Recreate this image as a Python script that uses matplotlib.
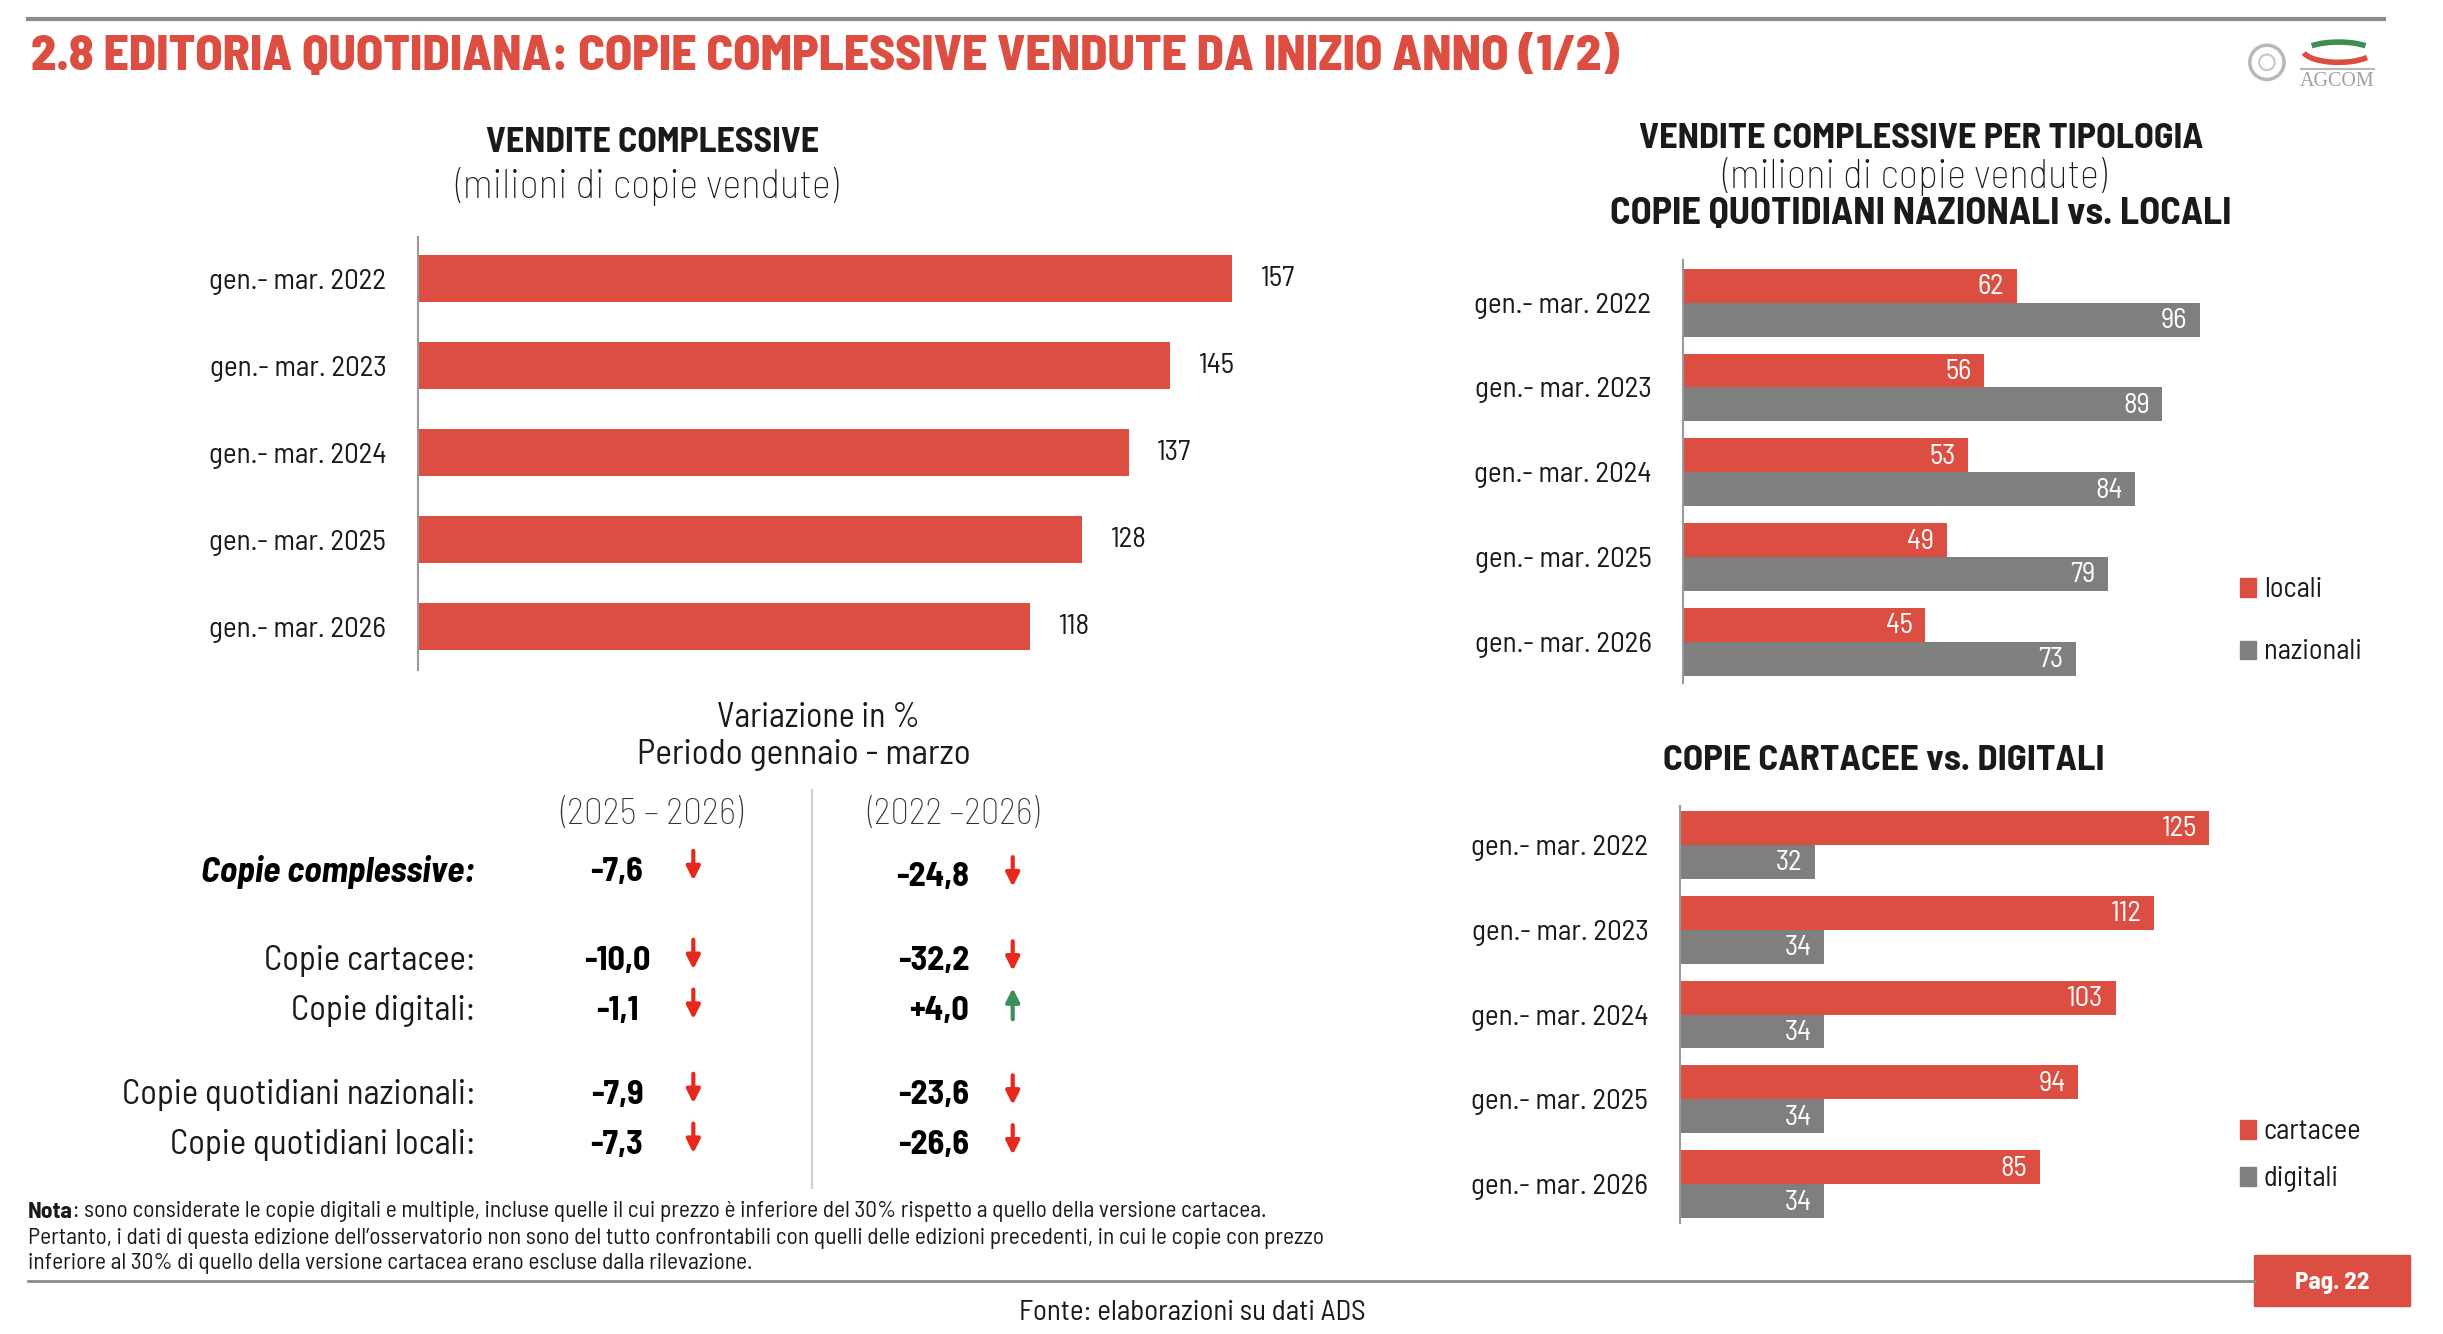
import matplotlib
matplotlib.use("Agg")
import matplotlib.pyplot as plt
from matplotlib.patches import Rectangle, Circle, Arc

# --- dati ---
periodi = ["gen.- mar. 2022", "gen.- mar. 2023", "gen.- mar. 2024", "gen.- mar. 2025", "gen.- mar. 2026"]
totale = [157, 145, 137, 128, 118]
locali = [62, 56, 53, 49, 45]
nazionali = [96, 89, 84, 79, 73]
cartacee = [125, 112, 103, 94, 85]
digitali = [32, 34, 34, 34, 34]

righe = ["Copie complessive:", "Copie cartacee:", "Copie digitali:",
         "Copie quotidiani nazionali:", "Copie quotidiani locali:"]
var_2025_2026 = [-7.6, -10.0, -1.1, -7.9, -7.3]
var_2022_2026 = [-24.8, -32.2, 4.0, -23.6, -26.6]

RED = "#DC4E41"
GRAY = "#7F7F7F"
TXT = "#1A1A1A"
FONT = ["Barlow Semi Condensed", "DejaVu Sans"]
plt.rcParams["font.family"] = FONT

# coordinate di riferimento della pagina
W0, H0 = 1568.0, 856.0
SC = 2443 / W0
DY = 1.5  # piccolo aggiustamento verticale dei testi


def rect(x0, y0, x1, y1):
    return [x0 / W0, 1 - y1 / H0, (x1 - x0) / W0, (y1 - y0) / H0]


fig = plt.figure(figsize=(24.43, 13.34), dpi=100)
fig.patch.set_facecolor("white")
R = fig.canvas.get_renderer()

bg = fig.add_axes([0, 0, 1, 1])
bg.set_xlim(0, W0)
bg.set_ylim(H0, 0)
bg.axis("off")


def size_for(s, target, **kw):
    # dimensione del font per avere la larghezza voluta (in unità pagina)
    t = bg.text(0, 0, s, fontsize=10, **kw)
    w = t.get_window_extent(renderer=R).width / SC
    t.remove()
    return 10 * target / w


def txt(x, y, s, target, ha="center", **kw):
    fs = size_for(s, target, **kw)
    return bg.text(x, y + DY, s, fontsize=fs, ha=ha, va="center", **kw)


# intestazione
bg.plot([18, 1530], [12, 12], color="#8C8C8C", lw=3)
txt(20, 35, "2.8 EDITORIA QUOTIDIANA: COPIE COMPLESSIVE VENDUTE DA INIZIO ANNO (1/2)", 1020,
    ha="left", color=RED, fontweight=800)

# logo (stilizzato)
bg.add_patch(Circle((1455, 40), 11, fill=False, ec="#B8B8B8", lw=2.5))
bg.add_patch(Circle((1455, 40), 5, fill=False, ec="#C8C8C8", lw=1.5))
bg.add_patch(Arc((1501, 32), 46, 16, theta1=15, theta2=175, color=RED, lw=4))
bg.add_patch(Arc((1501, 34), 46, 14, theta1=195, theta2=345, color="#3E8E4F", lw=4))
bg.plot([1477, 1524], [44, 44], color="#B8B8B8", lw=1.5)
txt(1500, 51, "AGCOM", 48, color="#A0A0A0", family=["Liberation Serif", "DejaVu Serif"])

LAB_FS = size_for(periodi[0], 114)
VAL_FS = size_for("157", 22)
IN_FS = LAB_FS * 0.98
LEG_FS = size_for("nazionali", 63)


def style_axis(ax, ylim):
    ax.set_ylim(*ylim)
    for s in ["top", "right", "bottom"]:
        ax.spines[s].set_visible(False)
    ax.spines["left"].set_color("#9A9A9A")
    ax.spines["left"].set_linewidth(1.5)
    ax.tick_params(left=False, bottom=False, labelbottom=False, pad=19,
                   labelsize=LAB_FS, labelcolor=TXT)
    ax.set_facecolor("none")


def legenda(bars_list, x, ys):
    for bars, y in zip(bars_list, ys):
        bg.add_patch(Rectangle((x, y - 6), 10, 12, color=bars.patches[0].get_facecolor()))
        bg.text(x + 15, y + DY, bars.get_label(), fontsize=LEG_FS, ha="left", va="center", color=TXT)


def etichette_interne(ax, bars, vals):
    for b, v in zip(bars, vals):
        ax.annotate(str(v), xy=(v, b.get_y() + b.get_height() / 2), xytext=(-9, -1),
                    textcoords="offset points", ha="right", va="center",
                    color="white", fontsize=IN_FS)


pos = list(range(len(periodi)))

# --- grafico 1: vendite complessive ---
txt(419, 90, "VENDITE COMPLESSIVE", 215, color=TXT, fontweight="bold")
txt(415, 118, "(milioni di copie vendute)", 246, color=TXT, fontweight="light")

ax1 = fig.add_axes(rect(268, 152, 268 + 523 / 157 * 175, 430))
b1 = ax1.barh(pos, totale, height=0.54, color=RED)
ax1.set_xlim(0, 175)
ax1.set_yticks(pos, periodi)
style_axis(ax1, (4.5, -0.48))
ax1.bar_label(b1, labels=[str(v) for v in totale], padding=20, fontsize=VAL_FS, color=TXT)

# --- grafico 2: nazionali vs locali ---
txt(1233, 88, "VENDITE COMPLESSIVE PER TIPOLOGIA", 364, color=TXT, fontweight="bold")
txt(1229, 112, "(milioni di copie vendute)", 247, color=TXT, fontweight="light")
txt(1233, 136, "COPIE QUOTIDIANI NAZIONALI vs. LOCALI", 400, color=TXT, fontweight="bold")

ax2 = fig.add_axes(rect(1080, 167, 1080 + 3.458 * 105, 438))
bl = ax2.barh([p - 0.2 for p in pos], locali, height=0.4, color=RED, label="locali")
bn = ax2.barh([p + 0.2 for p in pos], nazionali, height=0.4, color=GRAY, label="nazionali")
ax2.set_xlim(0, 105)
ax2.set_yticks(pos, periodi)
style_axis(ax2, (4.48, -0.5))
etichette_interne(ax2, bl, locali)
etichette_interne(ax2, bn, nazionali)
legenda([bl, bn], 1438, [377, 417])

# --- grafico 3: cartacee vs digitali ---
txt(1209, 487, "COPIE CARTACEE vs. DIGITALI", 284, color=TXT, fontweight="bold")

ax3 = fig.add_axes(rect(1078, 517, 1078 + 2.72 * 135, 785))
bc = ax3.barh([p - 0.2 for p in pos], cartacee, height=0.4, color=RED, label="cartacee")
bd = ax3.barh([p + 0.2 for p in pos], digitali, height=0.4, color=GRAY, label="digitali")
ax3.set_xlim(0, 135)
ax3.set_yticks(pos, periodi)
style_axis(ax3, (4.46, -0.46))
etichette_interne(ax3, bc, cartacee)
etichette_interne(ax3, bd, digitali)
legenda([bc, bd], 1438, [725, 755])

# --- tabella variazioni ---
txt(525, 459, "Variazione in %", 131, color=TXT)
txt(516, 483, "Periodo gennaio - marzo", 215, color=TXT)
txt(418, 521, "(2025 \u2013 2026)", 117, color="#333333", fontweight="light")
txt(612, 521, "(2022 \u20132026)", 110, color="#333333", fontweight="light")
bg.plot([521, 521], [507, 762], color="#CFCFCF", lw=1.5)

row_y = [558, 615, 647, 701, 733]
ROW_FS = size_for(righe[3], 227)
BIG_FS = size_for(righe[0], 176, fontweight="bold", fontstyle="italic")
NUM_FS = size_for("-24,8", 47, fontweight="bold")


def fmt(v):
    s = f"{v:.1f}".replace(".", ",")
    return "+" + s if v > 0 else s


def freccia(x, y, v):
    col = "#E8271E" if v < 0 else "#3A8F5A"
    if v < 0:
        a, b = (x, y + 9), (x, y - 10)
    else:
        a, b = (x, y - 12), (x, y + 8)
    bg.annotate("", xy=a, xytext=b,
                arrowprops=dict(arrowstyle="-|>", color=col, lw=3, mutation_scale=20,
                                shrinkA=0, shrinkB=0))


for i, (lab, y) in enumerate(zip(righe, row_y)):
    if i == 0:
        bg.text(305, y + DY, lab, fontsize=BIG_FS, fontweight="bold", fontstyle="italic",
                ha="right", va="center", color="black")
    else:
        bg.text(305, y + DY, lab, fontsize=ROW_FS, ha="right", va="center", color=TXT)
    bg.text(396, y + DY, fmt(var_2025_2026[i]), fontsize=NUM_FS, fontweight="bold",
            ha="center", va="center", color="black")
    freccia(445, y - 2, var_2025_2026[i])
    y2 = y + 3 if i == 0 else y
    bg.text(622, y2 + DY, fmt(var_2022_2026[i]), fontsize=NUM_FS, fontweight="bold",
            ha="right", va="center", color="black")
    freccia(650, y2 - 1, var_2022_2026[i])

# --- note ---
nota_righe = [
    ": sono considerate le copie digitali e multiple, incluse quelle il cui prezzo \u00e8 inferiore del 30% rispetto a quello della versione cartacea.",
    "Pertanto, i dati di questa edizione dell\u2019osservatorio non sono del tutto confrontabili con quelli delle edizioni precedenti, in cui le copie con prezzo",
    "inferiore al 30% di quello della versione cartacea erano escluse dalla rilevazione.",
]
NOTE_FS = size_for(nota_righe[1], 835)
t_nota = bg.text(18, 776 + DY, "Nota", fontsize=NOTE_FS, fontweight="bold", ha="left", va="center", color=TXT)
bg.annotate(nota_righe[0], xy=(1, 0), xycoords=t_nota, ha="left", va="bottom",
            fontsize=NOTE_FS, color=TXT)
bg.text(18, 793 + DY, nota_righe[1], fontsize=NOTE_FS, ha="left", va="center", color=TXT)
bg.text(18, 809 + DY, nota_righe[2], fontsize=NOTE_FS, ha="left", va="center", color=TXT)

# --- piè di pagina ---
bg.plot([18, 1447], [822, 822], color="#8C8C8C", lw=2)
bg.add_patch(Rectangle((1447, 805), 100, 33, color=RED))
txt(1497, 822, "Pag. 22", 48, color="white", fontweight="bold")
txt(765, 841, "Fonte: elaborazioni su dati ADS", 223, color=TXT)

fig.savefig("out.png", dpi=100)
